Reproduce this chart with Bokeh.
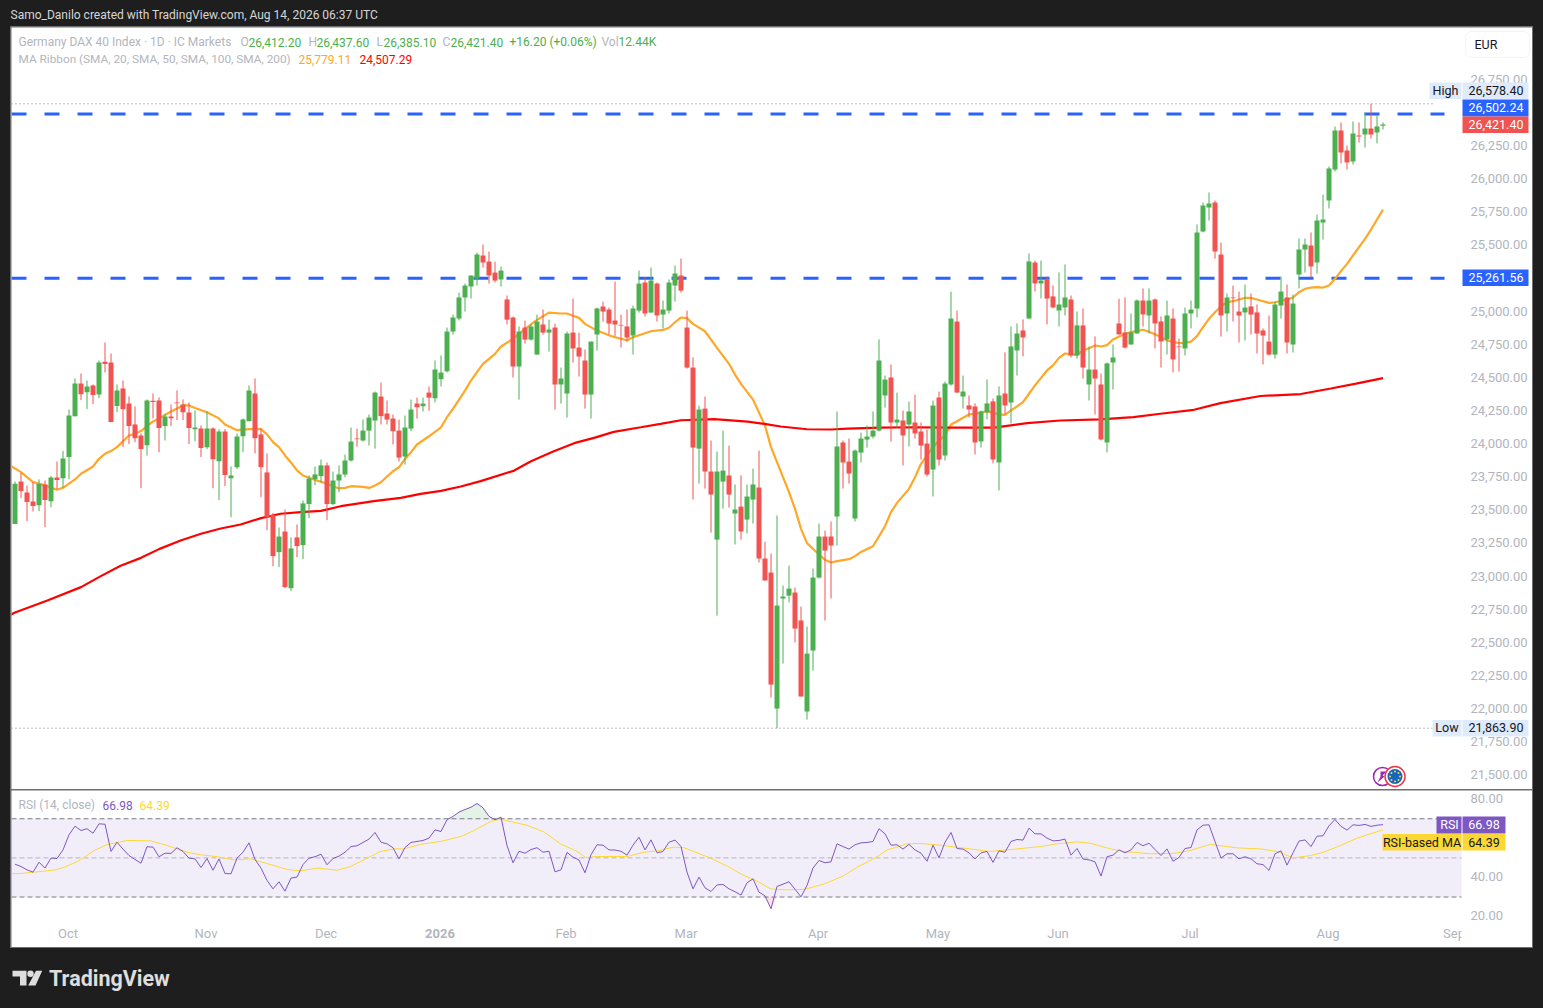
from bokeh.plotting import figure
from bokeh.layouts import column
from bokeh.models import Range1d, FixedTicker, NumeralTickFormatter, BoxAnnotation, Label, ColumnDataSource, LinearAxis
from bokeh.core.properties import value
from bokeh.embed import file_html
from bokeh.resources import INLINE
import numpy as np

opens = [23405,23727,23644,23576,23548,23704,23578,23757,23752,23911,
24220,24467,24401,24452,24384,24630,24625,24296,24429,24316,
24157,24074,24001,24336,24338,24145,24218,24323,24308,24248,
24122,24127,23986,24127,23880,24104,23752,23835,24069,24182,
24391,24082,23795,23473,23193,23349,22921,23304,23246,23556,
23744,23767,23848,23556,23734,23779,23885,24051,24036,24111,
24187,24368,24240,24202,24111,23915,24126,24315,24295,24398,
24355,24499,24559,24859,24957,25116,25199,25259,25433,25387,
25304,25252,25101,24965,24595,24889,24798,24685,24912,24851,
24889,24459,24391,24851,24738,24640,24383,24836,25048,25025,
24942,24909,24897,24829,25017,25229,25002,25221,24987,25017,
25206,25282,24889,24587,23975,24277,23802,23288,23726,23772,
23485,23537,23439,23590,23681,23145,23039,22012,22843,22865,
22888,22677,21990,22450,23001,23311,23311,23462,24021,23877,
23447,23945,24043,24066,24111,24376,24512,24172,24187,24157,
24172,24104,24013,23817,24361,23923,24459,24934,24368,24301,
24293,24029,24248,24331,23870,24391,24323,24716,24867,24957,
25380,25222,25252,25124,25018,25041,25101,24678,24905,24459,
24572,24459,24021,24625,24920,24852,24761,24844,25093,24980,
25101,24935,24799,24957,24746,24731,24995,25033,25614,25795,
25833,25440,24995,25116,25010,25003,25048,25003,24867,24783,
24685,25055,25116,24761,25289,25478,25508,25380,25682,25848,
26082,26377,26226,26143,26339,26347,26392,26362,26412.2]

highs = [23727,23792,23697,23722,23742,23734,23767,23878,23958,24270,
24505,24542,24489,24459,24640,24776,24693,24459,24489,24369,
24293,24089,24346,24391,24361,24238,24308,24414,24346,24323,
24263,24150,24255,24135,24122,24122,23840,24089,24203,24452,
24505,24127,23938,23488,23379,23515,23304,23402,23583,23772,
23840,23893,23870,23802,23848,23930,24134,24126,24194,24232,
24406,24474,24338,24232,24194,24225,24345,24360,24360,24444,
24640,24678,24889,24987,25153,25221,25282,25455,25516,25463,
25387,25350,25131,24972,24897,24942,24912,24987,25025,24949,
24919,24587,24859,25108,24851,24723,24783,25040,25085,25040,
25236,24987,25025,25055,25319,25267,25342,25229,25093,25252,
25357,25410,25017,24663,24300,24368,24036,23953,24111,23998,
23704,23772,23704,23824,23960,23273,23183,23470,22941,23092,
22926,22782,22631,23069,23409,23356,23424,24255,24036,24051,
23968,24096,24149,24255,24799,24527,24610,24398,24262,24330,
24383,24172,24119,24338,24406,24481,25160,25017,24527,24376,
24316,24263,24497,24353,24444,24701,24897,24920,24950,25448,
25395,25395,25275,25207,25305,25365,25131,25010,25033,24746,
24822,24542,24625,24761,25106,25116,24995,25101,25184,25184,
25108,24973,25093,25033,24806,25040,25093,25667,25833,25909,
25848,25531,25146,25206,25161,25214,25146,25063,24882,24980,
25085,25274,25214,25138,25561,25561,25607,25742,25893,26105,
26407,26437,26263,26445,26437,26513,26578.4,26497,26437.6]

lows = [23405,23601,23427,23500,23503,23382,23533,23669,23679,23744,
24218,24341,24273,24311,24356,24550,24175,24250,23986,24009,
24024,23676,23923,24203,23948,24036,24145,24190,24190,24009,
24031,23911,23971,23676,23586,23692,23457,23820,23948,24182,
23938,23608,23359,23087,23080,22921,22899,23155,23140,23450,
23699,23719,23435,23548,23646,23759,23877,23990,24028,23998,
23975,24157,24157,24006,23877,23855,24106,24202,24255,24262,
24323,24444,24549,24836,24942,25010,25108,25206,25342,25221,
25229,25199,24912,24512,24345,24768,24791,24685,24836,24708,
24270,24315,24209,24625,24519,24277,24202,24715,24934,24836,
24821,24738,24783,24685,25002,24972,25002,24934,24882,24995,
25085,25153,24579,23590,23711,23673,23341,22714,23522,23530,
23251,23288,23334,23409,23115,22979,22095,21863.9,22352,22813,
22511,22103,21929,22299,22994,22677,22843,23243,23673,23711,
23424,23870,23983,24051,24104,24285,24028,24134,23847,23991,
24051,23892,23764,23613,23847,23885,24451,24398,24277,24210,
23931,23983,24195,23863,23659,24233,24165,24527,24671,24957,
25161,25108,24912,25033,24897,24980,24663,24655,24504,24338,
24233,24036,23946,24421,24837,24731,24761,24844,24897,24844,
24731,24587,24686,24550,24557,24678,24882,24965,25607,25697,
25410,24821,24859,24934,24776,24791,24836,24693,24610,24678,
24655,24957,24693,24700,25184,25304,25267,25297,25554,25788,
26067,26128,26082,26120,26286,26248,26316,26279,26385.1]

closes = [23709,23654,23571,23541,23707,23586,23757,23737,23900,24225,
24467,24386,24444,24379,24625,24613,24175,24414,24273,24145,
24054,23971,24338,24326,24130,24218,24205,24318,24250,24130,
24135,23979,24127,23895,24104,23775,23772,24067,24195,24414,
24054,23835,23457,23163,23311,22929,23221,23239,23561,23749,
23780,23848,23556,23734,23780,23885,24028,24046,24111,24209,
24398,24220,24194,24106,23907,24134,24270,24287,24315,24360,
24572,24549,24859,24965,25116,25206,25282,25440,25380,25282,
25244,25319,24949,24595,24859,24798,24897,24934,24851,24874,
24459,24504,24844,24731,24670,24383,24783,25033,25010,24919,
24912,24904,24814,25033,25221,24995,25244,24980,25025,25229,
25297,25168,24587,23983,24270,23802,23628,23802,23809,23628,
23515,23349,23613,23704,23145,22979,22193,22790,22858,22918,
22616,22103,22427,23001,23311,23205,23243,23991,23870,23787,
23960,24051,24066,24111,24640,24496,24172,24194,24074,24255,
24089,23998,23779,24300,23892,24466,24957,24398,24406,24270,
24021,24255,24316,23893,24376,24301,24746,24844,24814,25388,
25222,25244,25108,25041,25063,25116,24678,24905,24587,24572,
24504,24044,24618,24663,24837,24738,24852,25093,24988,25093,
24920,24784,24980,24648,24741,24995,25025,25607,25810,25825,
25463,24980,25116,25111,24980,25040,24987,24844,24829,24685,
25063,25161,24776,25070,25478,25516,25350,25697,25705,26090,
26377,26211,26135,26354,26331,26392,26347,26407,26421.4]

ma20_bar = [-1,1,3,5,7,8,10,11,13,14,15,16,17,19,20,21,22,23,24,26,28,29,30,32,34,35,37,39,41,42,43,44,45,46,47,48,50,52,54,
55,56,58,59,60,61,62,63,64,65,66,67,69,71,72,73,75,76,77,78,80,81,83,85,87,89,91,92,94,95,97,99,100,102,103,106,108,109,110,111,
112,113,115,117,119,120,121,123,125,126,128,129,130,131,132,134,135,136,137,139,140,141,143,145,146,147,149,150,151,152,153,154,155,156,157,158,
159,160,162,164,165,166,167,168,169,170,172,173,174,175,177,178,179,180,181,182,183,185,186,188,189,191,192,194,195,
196,197,198,199,200,201,202,203,204,205,206,207,209,210,212,213,214,215,216,217,218,219,220,221,222,223,224,225,226,227,228]
ma20_val = [23853,23797,23722,23697,23664,23679,23742,23785,23840,23898,23936,23956,23986,24074,24087,24107,24145,24180,24203,24255,24301,24301,24281,24250,24203,24157,24114,24122,24122,24082,24024,23986,23923,23870,23810,23772,23739,23709,23674,
23678,23691,23686,23678,23696,23721,23764,23804,23834,23897,23948,24006,24068,24136,24212,24275,24413,24489,24552,24615,24690,24746,24803,24879,24947,25002,24995,24995,24962,24917,24866,24831,24816,24793,24816,24861,24871,24887,24929,24965,
24960,24917,24861,24736,24615,24534,24464,24345,24149,23986,23759,23646,23520,23369,23261,23175,23135,23115,23125,23140,23163,23195,23238,23389,23495,23565,23671,23759,23860,23923,23986,24036,24074,24157,24182,24208,
24233,24238,24258,24233,24230,24263,24293,24326,24389,24452,24565,24603,24660,24693,24683,24716,24733,24754,24746,24756,24799,24842,24854,24872,24857,24817,24791,24771,24773,
24783,24824,24892,24955,25005,25050,25080,25088,25101,25113,25113,25101,25075,25080,25101,25116,25156,25181,25191,25194,25191,25206,25257,25315,25370,25433,25496,25559,25629,25705,25779.11]

ma200_bar = [-1,0,5.4,11,14.3,17.6,21,24,27.6,31,34.3,37.6,41,44.3,47.6,51,54.3,59.8,64.3,67.6,71,74.3,77.6,83.2,86,89.8,93.2,96.5,99.8,104.3,107.6,111,116.5,122.1,124.9,127.6,132,136,138.8,144.3,149.8,155.4,160.4,163.2,168.7,174.2,180.9,186.4,190.9,196.5,200.9,207.6,214.3,219.3,223.5,228]
ma200_val = [22715,22737,22828,22929,23012,23090,23150,23216,23281,23332,23372,23402,23450,23483,23495,23505,23540,23578,23603,23633,23656,23689,23729,23809,23880,23955,24016,24056,24101,24136,24162,24189,24197,24179,24162,24142,24121,24119,24126,24134,24136,24134,24134,24134,24167,24187,24195,24212,24238,24268,24318,24372,24387,24429,24466,24507.29]

rsi = [46.8,45.6,43.9,42.7,47.8,44.8,49.9,49.7,54.1,61.8,66.2,64.0,64.9,62.6,67.4,67.2,53.3,58.0,54.5,51.2,49.2,47.3,55.7,55.5,50.6,52.4,52.3,55.2,53.3,49.9,
49.5,45.1,49.7,43.7,49.5,42.0,41.9,49.9,52.9,57.7,49.2,44.8,38.5,34.2,37.8,33.0,39.7,40.2,46.6,49.9,50.6,51.9,46.5,49.7,50.9,52.9,55.8,56.2,57.9,59.6,
63.0,58.0,57.2,55.2,49.5,55.3,57.9,58.4,58.9,60.1,64.3,63.5,69.5,71.2,73.4,74.7,75.9,77.8,75.6,71.2,69.5,70.8,56.3,47.5,
53.4,52.4,54.3,55.2,52.9,53.4,42.9,43.9,52.8,50.4,48.9,42.4,51.6,56.7,56.5,54.1,54.0,53.4,51.4,56.5,60.6,54.1,59.2,52.6,53.3,58.0,59.1,55.8,
42.7,34.2,40.2,34.7,32.8,36.2,36.4,34.2,32.7,31.0,37.3,39.3,32.5,30.6,24.0,35.4,36.6,37.8,34.0,30.1,35.9,44.8,48.7,47.5,48.0,57.2,55.8,54.5,56.7,57.7,57.9,58.4,64.9,62.3,
56.5,56.7,54.5,56.9,54.1,52.4,48.3,56.5,50.0,58.0,63.0,54.8,54.5,52.6,49.5,52.6,53.3,47.7,53.6,52.9,58.4,59.4,59.1,65.2,
62.3,62.3,60.1,58.7,58.9,59.6,51.4,54.8,49.4,49.0,48.0,40.7,50.6,51.4,54.1,52.6,54.1,57.9,56.2,57.5,54.3,51.2,54.6,48.3,50.2,54.8,55.3,64.3,66.7,66.9,
58.4,49.9,52.1,52.1,49.5,50.6,49.5,47.0,46.6,43.6,52.1,53.6,46.3,52.6,58.6,59.2,55.8,61.1,61.3,66.4,69.6,66.1,64.2,66.9,66.6,67.1,66.1,66.7,66.98]

rsi_ma_bar = [-0.6,0.9,3.2,6.8,8.7,10.9,13.2,15.4,18.7,22.6,25.4,28.7,30.9,33.7,36.5,39.3,42.1,45.4,47.6,50.4,53.7,55.9,58.7,60.9,63.2,64.8,67.6,70.9,74.3,76.5,79.3,80.9,
85.4,88.2,90.9,93.7,95.1,97,102,104.8,107,109.8,111.5,113.7,115.9,118.7,121.5,123.7,125.9,128.2,131.5,134.9,138.2,140.4,143.1,145.4,148.7,150.9,154.8,159.9,162.6,166,
170.9,173.7,177,179.2,182.6,184.8,189.2,193.1,195.9,199.2,203.7,207.6,210.3,213.1,215.9,218.1,220.9,223.7,225.9,228]
rsi_ma_val = [42.0,42.0,42.7,43.9,45.8,49.0,53.8,56.8,58.9,58.7,56.3,52.9,51.6,50.6,49.0,49.5,47.0,44.1,43.4,44.8,43.7,45.6,49.9,53.3,54.6,54.6,56.9,58.4,60.9,64.0,68.6,69.8,
66.6,63.2,57.2,53.3,50.2,50.7,50.7,52.9,53.6,55.5,55.2,52.6,49.9,45.8,41.0,38.1,34.2,33.7,33.9,36.7,41.0,45.3,49.5,54.1,57.2,57.4,56.3,54.3,53.3,54.3,
55.8,57.2,58.2,57.5,54.6,53.3,52.1,52.3,53.8,56.9,55.1,54.6,53.3,50.0,51.2,52.9,56.3,60.1,62.3,64.39]

levels = [26502.24, 25261.56]
price_ticks = [26750,26250,26000,25750,25500,25000,24750,24500,24250,24000,23750,23500,23250,23000,22750,22500,22250,22000,21750,21500]
rsi_ticks = [80,40,20]
month_bars = [9,32,52,92,112,134,154,174,196,219,240]
month_labels = ["Oct","Nov","Dec","Feb","Mar","Apr","May","Jun","Jul","Aug","Sep"]
year_bar = [71]
year_label = ["2026"]

FONT = "Roboto"
BG = "#1e1e1e"
GREY = "#b2b5be"
GREEN = "#4caf50"
RED = "#f05350"

def px(x):      # page pixel -> bar number
    return (x - 14.5) / 6.0
def py(y):      # page pixel -> price
    return 26578.4 - (y - 103.3) * 7.5506
def ry(y):      # page pixel -> RSI
    return 50.0 - (y - 857.4) / 1.957

xr = (px(11), px(1532))
LABEL_LIFT = 1.7   # the scale's texts sit this many pixels above their level

def txt(p, x, y, s, color, size="12px", style="normal", align="left"):
    p.text(x=[x], y=[y], text=[s], text_color=color, text_font=value(FONT), text_font_size=size,
           text_font_style=style, text_align=align, text_baseline="middle")

def lab(p, x, y, s, color, size="12.5px", align="left"):
    p.add_layout(Label(x=x, y=y, text=s, text_color=color, text_font=FONT, text_font_size=size,
                       text_align=align, text_baseline="middle"))

def box(p, l, r, t, b, color, conv, line=None, radius=0):
    p.add_layout(BoxAnnotation(left=px(l), right=px(r), top=conv(t), bottom=conv(b), fill_color=color, fill_alpha=1,
                               line_color=line, line_alpha=1 if line else 0, line_width=1, border_radius=radius))

def scale_axis(p, range_name, ticks, fmt):
    ax = LinearAxis(y_range_name=range_name, ticker=FixedTicker(ticks=ticks), formatter=NumeralTickFormatter(format=fmt))
    ax.axis_line_color = None
    ax.major_tick_line_color = None
    ax.major_tick_out = 0
    ax.major_tick_in = 0
    ax.minor_tick_line_color = None
    ax.minor_tick_out = 0
    ax.minor_tick_in = 0
    ax.major_label_text_color = GREY
    ax.major_label_text_font = FONT
    ax.major_label_text_font_size = "13px"
    ax.major_label_standoff = -62   # labels sit inside the frame's right-hand strip
    p.add_layout(ax, "right")

# ---------- header strip
head = figure(width=1543, height=26, x_range=Range1d(0, 1543), y_range=Range1d(26, 0), x_axis_type=None, y_axis_type=None,
              toolbar_location=None, output_backend="svg", background_fill_color=BG, border_fill_color=BG,
              outline_line_color=None, min_border=0, tools="")
head.grid.visible = False
txt(head, 10, 14.5, "Samo_Danilo created with TradingView.com, Aug 14, 2026 06:37 UTC", "#d6d6d6", "12px")

# ---------- price pane
price = figure(width=1521, height=762, x_range=Range1d(*xr), y_range=Range1d(py(789), py(27)), x_axis_type=None, y_axis_type=None,
               toolbar_location=None, output_backend="svg", background_fill_color="white",
               border_fill_color="white", outline_line_color=None, min_border=0, tools="", margin=(1, 1, 0, 1))
price.grid.visible = False
price.extra_y_ranges = {"scale": Range1d(py(789 + LABEL_LIFT), py(27 + LABEL_LIFT))}
scale_axis(price, "scale", price_ticks, "0,0.00")

for lv in (26578.4, 21863.9):
    price.line([px(11), px(1432)], [lv, lv], line_color="#787b86", line_dash="1 3", line_width=1)
for lv in levels:
    price.line([px(11), px(1444)], [lv, lv], line_color="#2962ff", line_width=3, line_dash="15 18")

price.line(ma20_bar, ma20_val, line_color="#ffa726", line_width=2.2)
price.line(ma200_bar, ma200_val, line_color="#ff0000", line_width=2.2)

bars = np.arange(len(opens))
o, h, l, c = map(np.array, (opens, highs, lows, closes))
up = c >= o
for mask, col in ((up, GREEN), (~up, RED)):
    src = ColumnDataSource(dict(x=bars[mask], lo=l[mask], hi=h[mask], top=np.maximum(o, c)[mask], bot=np.minimum(o, c)[mask]))
    price.segment("x", "lo", "x", "hi", source=src, line_color=col, line_width=1)
    price.vbar("x", width=5 / 6, top="top", bottom="bot", source=src, fill_color=col, line_color=None)

# legend rows
Y1, Y2 = py(41.5), py(58.5)
txt(price, px(18), Y1, "Germany DAX 40 Index · 1D · IC Markets", GREY)
for x, s in ((240, "O"), (308, "H"), (376, "L"), (442, "C"), (601, "Vol")):
    txt(price, px(x), Y1, s, GREY)
for x, s in ((248, "26,412.20"), (316, "26,437.60"), (383, "26,385.10"), (450, "26,421.40"), (509, "+16.20 (+0.06%)"), (618, "12.44K")):
    txt(price, px(x), Y1, s, GREEN)
txt(price, px(18), Y2, "MA Ribbon (SMA, 20, SMA, 50, SMA, 100, SMA, 200)", GREY, "11.8px")
txt(price, px(298), Y2, "25,779.11", "#ffa726")
txt(price, px(359), Y2, "24,507.29", "#ff0000")

# event badges
price.scatter([px(1382)], [py(776)], size=18, marker="circle", fill_color="white", line_color="#9c27b0", line_width=1.5)
price.patch([px(1380), px(1386), px(1382), px(1384), px(1377), px(1380)],
            [py(771), py(771), py(775), py(776), py(782), py(776)], fill_color="#9c27b0", line_color=None)
price.scatter([px(1394.5)], [py(776)], size=20, marker="circle", fill_color="white", line_color="#f23645", line_width=1.5)
price.scatter([px(1394.5)], [py(776)], size=15, marker="circle", fill_color="#1565c0", line_color=None)
price.scatter([px(1394.5 + d) for d in (-5, -3.5, 0, 3.5, 5, 3.5, 0, -3.5)],
              [py(776 + d) for d in (0, -3.5, -5, -3.5, 0, 3.5, 5, 3.5)], size=2, marker="circle", fill_color="#fdd835", line_color=None)

# price tags
box(price, 1465, 1529, 31, 57, "white", py, line="#f0f3fa", radius=6)
lab(price, px(1474), py(44), "EUR", "#131722", "12.5px")
box(price, 1429, 1461, 82, 98.5, "#dfeafb", py)
box(price, 1462, 1528, 82, 98.5, "#dfeafb", py)
lab(price, px(1445), py(89.5), "High", "#131722", align="center")
lab(price, px(1495.5), py(89.5), "26,578.40", "#131722", align="center")
box(price, 1462, 1528, 99, 116, "#2962ff", py)
lab(price, px(1495.5), py(106.5), "26,502.24", "white", align="center")
box(price, 1462, 1528, 116, 132.5, "#f05350", py)
lab(price, px(1495.5), py(123.5), "26,421.40", "white", align="center")
box(price, 1462, 1528, 269, 285.5, "#2962ff", py)
lab(price, px(1495.5), py(277), "25,261.56", "white", align="center")
box(price, 1432, 1461, 719.5, 736, "#dfeafb", py)
box(price, 1462, 1528, 719.5, 736, "#dfeafb", py)
lab(price, px(1446.5), py(727), "Low", "#131722", align="center")
lab(price, px(1495.5), py(727), "21,863.90", "#131722", align="center")

# ---------- RSI pane with the time scale below it
rp = figure(width=1521, height=157, x_range=Range1d(*xr), y_range=Range1d(ry(947), ry(790)), x_axis_type=None, y_axis_type=None,
            toolbar_location=None, output_backend="svg", background_fill_color="white",
            border_fill_color="white", outline_line_color=None, min_border=0, tools="", margin=(1, 1, 1, 1))
rp.grid.visible = False
rp.extra_y_ranges = {"scale": Range1d(ry(947 + 0.7), ry(790 + 0.7))}
scale_axis(rp, "scale", rsi_ticks, "0.00")

rp.quad(left=[px(11)], right=[px(1461)], top=[70], bottom=[30], fill_color="#7e57c2", fill_alpha=0.1, line_color=None)
r = np.array(rsi)
rp.varea(bars, np.full(len(r), 70.0), np.maximum(r, 70.0), fill_color=GREEN, fill_alpha=0.15)
rp.varea(bars, np.full(len(r), 30.0), np.minimum(r, 30.0), fill_color="#f23645", fill_alpha=0.15)
for lv, a in ((70, 1), (50, 0.5), (30, 1)):
    rp.line([px(11), px(1461)], [lv, lv], line_color="#787b86", line_dash="5 3", line_width=1, line_alpha=a)
rp.line(rsi_ma_bar, rsi_ma_val, line_color="#fdd835", line_width=1)
rp.line(bars, rsi, line_color="#7e57c2", line_width=1)
txt(rp, px(18), ry(804.5), "RSI (14, close)", GREY)
txt(rp, px(102), ry(804.5), "66.98", "#7e57c2")
txt(rp, px(139), ry(804.5), "64.39", "#fdd835")
box(rp, 1436, 1461, 816, 833, "#7e57c2", ry)
box(rp, 1462, 1505, 816, 833, "#7e57c2", ry)
lab(rp, px(1449), ry(824), "RSI", "white", align="center")
lab(rp, px(1483.5), ry(824), "66.98", "white", align="center")
box(rp, 1382, 1461, 833.5, 850, "#fdd835", ry)
box(rp, 1462, 1505, 833.5, 850, "#fdd835", ry)
lab(rp, px(1421.5), ry(841.5), "RSI-based MA", "#131722", align="center")
lab(rp, px(1483.5), ry(841.5), "64.39", "#131722", align="center")

rp.text(x=month_bars, y=[ry(932.5)] * len(month_bars), text=month_labels, text_color=GREY, text_font=value(FONT),
        text_font_size="13px", text_align="center", text_baseline="middle", x_offset=-1)
rp.text(x=year_bar, y=[ry(932.5)], text=year_label, text_color=GREY, text_font=value(FONT), text_font_size="13px",
        text_font_style="bold", text_align="center", text_baseline="middle", x_offset=-1)
box(rp, 1461, 1470, 924, 945, "white", ry)   # the time scale ends at the pane's edge

panel = column(price, rp, width=1523, height=922, spacing=0, margin=(0, 0, 0, 10), styles={"background-color": "#6f6f6f"})

# ---------- footer
foot = figure(width=1543, height=60, x_range=Range1d(0, 1543), y_range=Range1d(1008, 948), x_axis_type=None, y_axis_type=None,
              toolbar_location=None, output_backend="svg", background_fill_color=BG, border_fill_color=BG,
              outline_line_color=None, min_border=0, tools="")
foot.grid.visible = False
LOGO = "#dedede"
foot.patch([12, 26, 26, 19.5, 19.5, 12], [970.3, 970.3, 985, 985, 976, 976], fill_color=LOGO, line_color=None)
foot.scatter([30], [973.2], size=6.5, marker="circle", fill_color=LOGO, line_color=None)
foot.patch([35.5, 41.7, 35, 27.7], [970.3, 970.3, 985, 985], fill_color=LOGO, line_color=None)
txt(foot, 48.5, 978, "TradingView", LOGO, "21.5px", "bold")

root = column(head, panel, foot, spacing=0)
html = file_html(root, INLINE)
html = html.replace("<head>", "<head><style>html,body{background:#1e1e1e;}</style>", 1)
open("out.html", "w").write(html)
